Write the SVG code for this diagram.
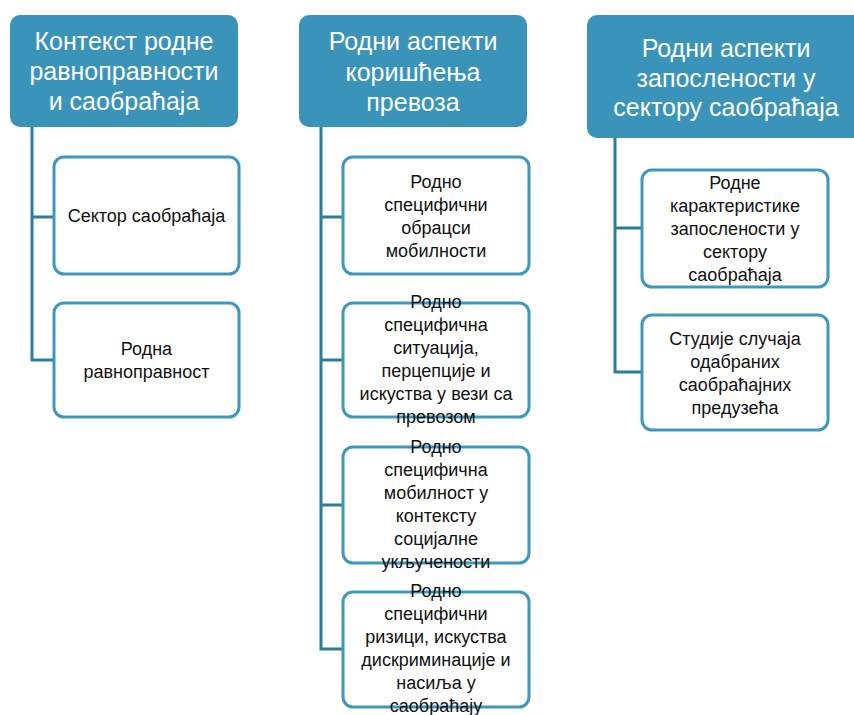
<svg xmlns="http://www.w3.org/2000/svg" width="854" height="715" viewBox="0 0 854 715">
<style>
.hdr{fill:#3A94BA;}
.box{fill:#ffffff;stroke:#3E98BE;stroke-width:3;}
.ht{fill:#ffffff;font-family:"Liberation Sans",Arial,sans-serif;font-size:25px;text-anchor:middle;dominant-baseline:central;}
.bt{fill:#111111;font-family:"Liberation Sans",Arial,sans-serif;font-size:18px;text-anchor:middle;dominant-baseline:central;}
.con{fill:none;stroke:#2B7C9D;stroke-width:3;}
</style>
<rect width="854" height="715" fill="#ffffff"/>
<g id="connectors">
<path class="con" d="M32,127 V360 H54 M32,217 H54"/>
<path class="con" d="M321,127 V649 H343 M321,217 H343 M321,360 H343 M321,505 H343"/>
<path class="con" d="M615,138 V372 H642 M615,228 H642"/>
</g>
<g id="h1">
<rect class="hdr" x="10" y="15" width="228" height="112" rx="10"/>
<text class="ht" x="124" y="41">Контекст родне</text>
<text class="ht" x="124" y="71">равноправности</text>
<text class="ht" x="124" y="101">и саобраћаја</text>
</g>
<g id="h1c1">
<rect class="box" x="54" y="157" width="185" height="117" rx="10"/>
<text class="bt" x="146.5" y="216">Сектор саобраћаја</text>
</g>
<g id="h1c2">
<rect class="box" x="54" y="303" width="185" height="114" rx="10"/>
<text class="bt" x="146.5" y="349">Родна</text>
<text class="bt" x="146.5" y="372">равноправност</text>
</g>
<g id="h2">
<rect class="hdr" x="299" y="15" width="228" height="112" rx="10"/>
<text class="ht" x="413" y="41">Родни аспекти</text>
<text class="ht" x="413" y="72">коришћења</text>
<text class="ht" x="413" y="102">превоза</text>
</g>
<g id="h2c1">
<rect class="box" x="343" y="157" width="186" height="117" rx="10"/>
<text class="bt" x="436" y="182">Родно</text>
<text class="bt" x="436" y="205">специфични</text>
<text class="bt" x="436" y="228">обрацси</text>
<text class="bt" x="436" y="251">мобилности</text>
</g>
<g id="h2c2">
<rect class="box" x="343" y="303" width="186" height="114" rx="10"/>
<text class="bt" x="436" y="302">Родно</text>
<text class="bt" x="436" y="325">специфична</text>
<text class="bt" x="436" y="348">ситуација,</text>
<text class="bt" x="436" y="371">перцепције и</text>
<text class="bt" x="436" y="394">искуства у вези са</text>
<text class="bt" x="436" y="417">превозом</text>
</g>
<g id="h2c3">
<rect class="box" x="343" y="447" width="186" height="116" rx="10"/>
<text class="bt" x="436" y="447">Родно</text>
<text class="bt" x="436" y="470">специфична</text>
<text class="bt" x="436" y="493">мобилност у</text>
<text class="bt" x="436" y="516">контексту</text>
<text class="bt" x="436" y="539">социјалне</text>
<text class="bt" x="436" y="562">укључености</text>
</g>
<g id="h2c4">
<rect class="box" x="343" y="592" width="186" height="115" rx="10"/>
<text class="bt" x="436" y="591">Родно</text>
<text class="bt" x="436" y="614">специфични</text>
<text class="bt" x="436" y="637">ризици, искуства</text>
<text class="bt" x="436" y="660">дискриминације и</text>
<text class="bt" x="436" y="683">насиља у</text>
<text class="bt" x="436" y="706">саобраћају</text>
</g>
<g id="h3">
<rect class="hdr" x="587" y="15" width="278" height="123" rx="10"/>
<text class="ht" x="726" y="48">Родни аспекти</text>
<text class="ht" x="726" y="78">запослености у</text>
<text class="ht" x="726" y="107">сектору саобраћаја</text>
</g>
<g id="h3c1">
<rect class="box" x="642" y="170" width="186" height="117" rx="10"/>
<text class="bt" x="735" y="183">Родне</text>
<text class="bt" x="735" y="206">карактеристике</text>
<text class="bt" x="735" y="229">запослености у</text>
<text class="bt" x="735" y="252">сектору</text>
<text class="bt" x="735" y="275">саобраћаја</text>
</g>
<g id="h3c2">
<rect class="box" x="642" y="315" width="186" height="115" rx="10"/>
<text class="bt" x="735" y="339">Студије случаја</text>
<text class="bt" x="735" y="362">одабраних</text>
<text class="bt" x="735" y="385">саобраћајних</text>
<text class="bt" x="735" y="408">предузећа</text>
</g>
</svg>
